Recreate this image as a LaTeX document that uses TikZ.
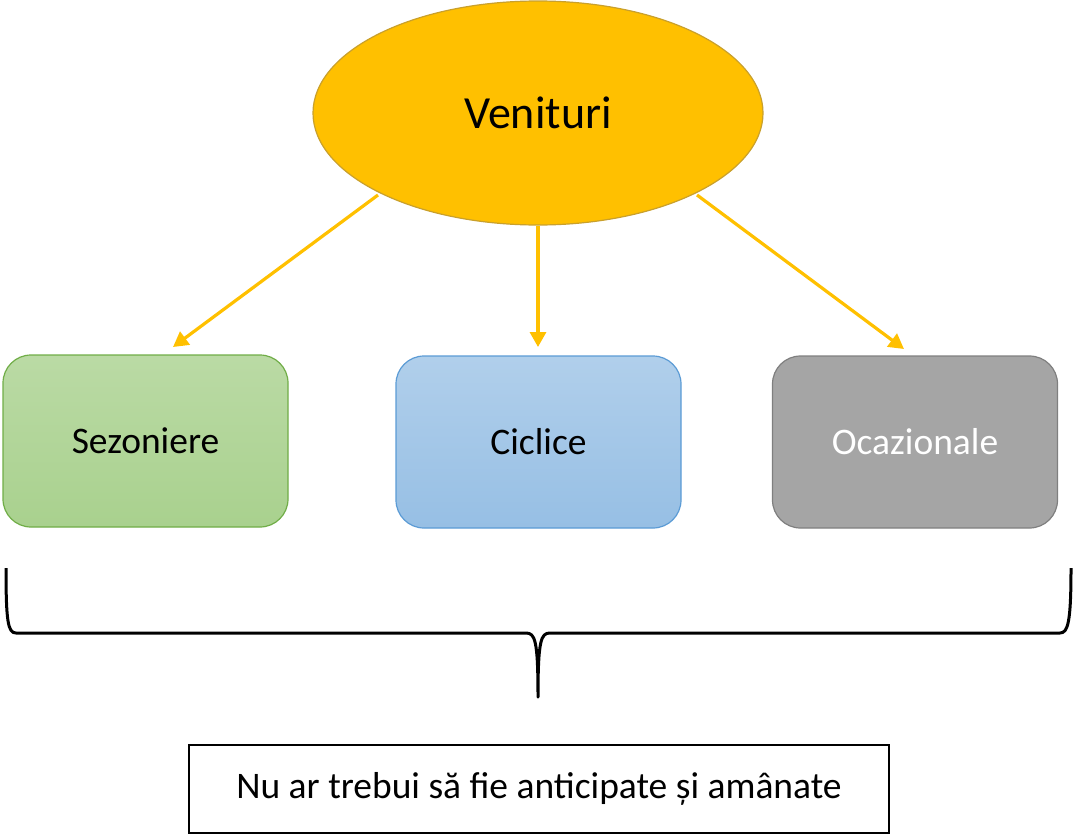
\documentclass[tikz,border=0pt]{standalone}
\usepackage{fontspec}
\setmainfont{Carlito}
\usetikzlibrary{shapes.geometric,arrows.meta}
\definecolor{gold}{HTML}{FFC000}
\definecolor{goldline}{HTML}{C9A02C}
\definecolor{gfill}{HTML}{A9D18E}
\definecolor{gline}{HTML}{70AD47}
\definecolor{bfill}{HTML}{9DC3E6}
\definecolor{bline}{HTML}{5B9BD5}
\definecolor{grfill}{HTML}{A5A5A5}
\definecolor{grline}{HTML}{7F7F7F}
\tikzset{
  catbox/.style={rounded corners=28pt, minimum width=285pt, minimum height=172pt, line width=1.2pt, inner sep=0pt, font=\fontsize{37.5}{42}\selectfont},
  conn/.style={gold, line width=3.2pt, -{Triangle[length=15pt,width=16pt]}},
}
\begin{document}
\begin{tikzpicture}[x=1pt,y=-1pt]
\useasboundingbox (0,0) rectangle (1075,835);
\node[ellipse, draw=goldline, fill=gold, line width=1.2pt, minimum width=450pt, minimum height=224pt, font=\fontsize{46}{52}\selectfont] (ven) at (538,113) {Venituri};
\node[catbox, draw=gline, top color=gfill!80!white, bottom color=gfill] (sez) at (145.5,441) {Sezoniere};
\node[catbox, draw=bline, top color=bfill!80!white, bottom color=bfill!90!bline] (cic) at (538.5,442) {Ciclice};
\node[catbox, draw=grline, fill=grfill, text=white] (oca) at (915,442) {Ocazionale};
\coordinate (sezt) at (173,347);
\coordinate (cict) at (538,347);
\coordinate (ocat) at (904,349);
\coordinate (a1) at (378,195);
\coordinate (a3) at (697,195);
\draw[conn] (a1) -- (sezt);
\draw[conn] (ven.south) -- (cict);
\draw[conn] (a3) -- (ocat);
\coordinate (bl) at (6,568);
\coordinate (br) at (1071,568);
\coordinate (bm) at (538,697);
\draw[line width=3pt, line join=round] (bl) .. controls (6,622) and (8,633) .. (16,633) -- (526,633) .. controls (535,633) and (538,640) .. (bm)
  .. controls (538,640) and (541,633) .. (550,633) -- (1060,633) .. controls (1068,633) and (1071,622) .. (br);
\node[draw=black, line width=1.5pt, minimum width=700pt, minimum height=88pt, font=\fontsize{37.5}{42}\selectfont] (note) at (539,789) {Nu ar trebui să fie anticipate și amânate};
\end{tikzpicture}
\end{document}
